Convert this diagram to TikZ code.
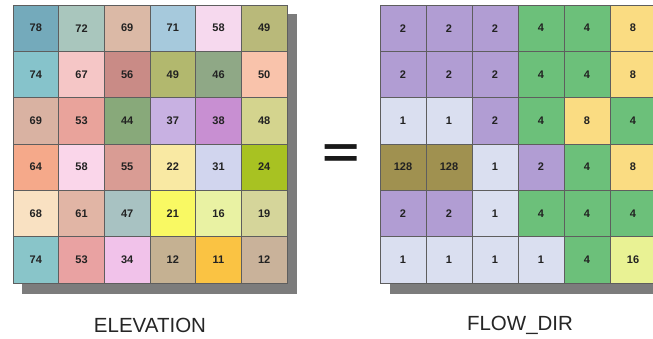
\documentclass[tikz,border=0pt]{standalone}
\usepackage{fontspec}
\setmainfont{Liberation Sans}
\definecolor{gridc}{HTML}{5E5E5E}
\definecolor{numc}{HTML}{222222}
\definecolor{shadowc}{HTML}{7C7C7C}
\definecolor{pP}{HTML}{B19DD3}
\definecolor{pG}{HTML}{6CC07A}
\definecolor{pY}{HTML}{FADC82}
\definecolor{pW}{HTML}{DADFF0}
\definecolor{pB}{HTML}{A09150}
\definecolor{pL}{HTML}{E9F294}
\newcommand\lcell[4]{\definecolor{lc#1#2}{HTML}{#3}\node[cellL, fill=lc#1#2] (L#1#2) at ({13+45.67*(#2-0.5)},{5+46.33*(#1-0.5)}) {#4};}
\newcommand\rcell[4]{\node[cellR, fill=#3] (R#1#2) at ({380+46*(#2-0.5)},{5+46.33*(#1-0.5)}) {#4};}
\begin{document}
\begin{tikzpicture}[x=1pt,y=-1pt,
  cellbase/.style={draw=gridc, line width=0.8pt, inner sep=0pt, minimum height=46.33pt,
    font=\fontsize{11}{12}\selectfont\bfseries, text=numc},
  cellL/.style={cellbase, minimum width=45.67pt},
  cellR/.style={cellbase, minimum width=46pt},
  shadowbox/.style={fill=shadowc, draw=none},
  caption/.style={font=\fontsize{20.5}{23}\selectfont, text=black!85},
  eqsign/.style={font=\fontsize{44}{44}\selectfont\bfseries, xscale=1.45, text=black!90, inner sep=0pt}]
\useasboundingbox (0,0) rectangle (653,339);
\fill[white] (0,0) rectangle (653,339);
% shadows
\fill[shadowbox] (22,14) rectangle (297,294);
\fill[shadowbox] (390,14) rectangle (680,294);
% elevation grid
\lcell{1}{1}{74AABB}{78}\lcell{1}{2}{A9C6BD}{72}\lcell{1}{3}{DBB9A6}{69}\lcell{1}{4}{A6C9DC}{71}\lcell{1}{5}{F6D9EE}{58}\lcell{1}{6}{B9B97A}{49}
\lcell{2}{1}{86C3CB}{74}\lcell{2}{2}{F5C6C6}{67}\lcell{2}{3}{C98B86}{56}\lcell{2}{4}{B2B86E}{49}\lcell{2}{5}{8FA886}{46}\lcell{2}{6}{F9C3AB}{50}
\lcell{3}{1}{D9B2A2}{69}\lcell{3}{2}{E9A39B}{53}\lcell{3}{3}{88A97A}{44}\lcell{3}{4}{C8B1E2}{37}\lcell{3}{5}{C88FD2}{38}\lcell{3}{6}{D4D48E}{48}
\lcell{4}{1}{F5A98A}{64}\lcell{4}{2}{FAD6EA}{58}\lcell{4}{3}{D99C94}{55}\lcell{4}{4}{F9E9A3}{22}\lcell{4}{5}{D1D5EE}{31}\lcell{4}{6}{A8C222}{24}
\lcell{5}{1}{F9E1C2}{68}\lcell{5}{2}{E1B5A5}{61}\lcell{5}{3}{A8C2C2}{47}\lcell{5}{4}{F9F963}{21}\lcell{5}{5}{E9F2A3}{16}\lcell{5}{6}{D5D59A}{19}
\lcell{6}{1}{89C5C9}{74}\lcell{6}{2}{E9A2A2}{53}\lcell{6}{3}{F1C2EA}{34}\lcell{6}{4}{C5B192}{12}\lcell{6}{5}{FAC343}{11}\lcell{6}{6}{C9B29A}{12}
% flow direction grid
\rcell{1}{1}{pP}{2}\rcell{1}{2}{pP}{2}\rcell{1}{3}{pP}{2}\rcell{1}{4}{pG}{4}\rcell{1}{5}{pG}{4}\rcell{1}{6}{pY}{8}
\rcell{2}{1}{pP}{2}\rcell{2}{2}{pP}{2}\rcell{2}{3}{pP}{2}\rcell{2}{4}{pG}{4}\rcell{2}{5}{pG}{4}\rcell{2}{6}{pY}{8}
\rcell{3}{1}{pW}{1}\rcell{3}{2}{pW}{1}\rcell{3}{3}{pP}{2}\rcell{3}{4}{pG}{4}\rcell{3}{5}{pY}{8}\rcell{3}{6}{pG}{4}
\rcell{4}{1}{pB}{128}\rcell{4}{2}{pB}{128}\rcell{4}{3}{pW}{1}\rcell{4}{4}{pP}{2}\rcell{4}{5}{pG}{4}\rcell{4}{6}{pY}{8}
\rcell{5}{1}{pP}{2}\rcell{5}{2}{pP}{2}\rcell{5}{3}{pW}{1}\rcell{5}{4}{pG}{4}\rcell{5}{5}{pG}{4}\rcell{5}{6}{pG}{4}
\rcell{6}{1}{pW}{1}\rcell{6}{2}{pW}{1}\rcell{6}{3}{pW}{1}\rcell{6}{4}{pW}{1}\rcell{6}{5}{pG}{4}\rcell{6}{6}{pL}{16}
% equals sign
\node[eqsign] (eq) at (341,156) {=};
% captions
\node[caption] (capL) at (150,325) {ELEVATION};
\node[caption] (capR) at (520,325) {FLOW\_DIR};
\end{tikzpicture}
\end{document}
